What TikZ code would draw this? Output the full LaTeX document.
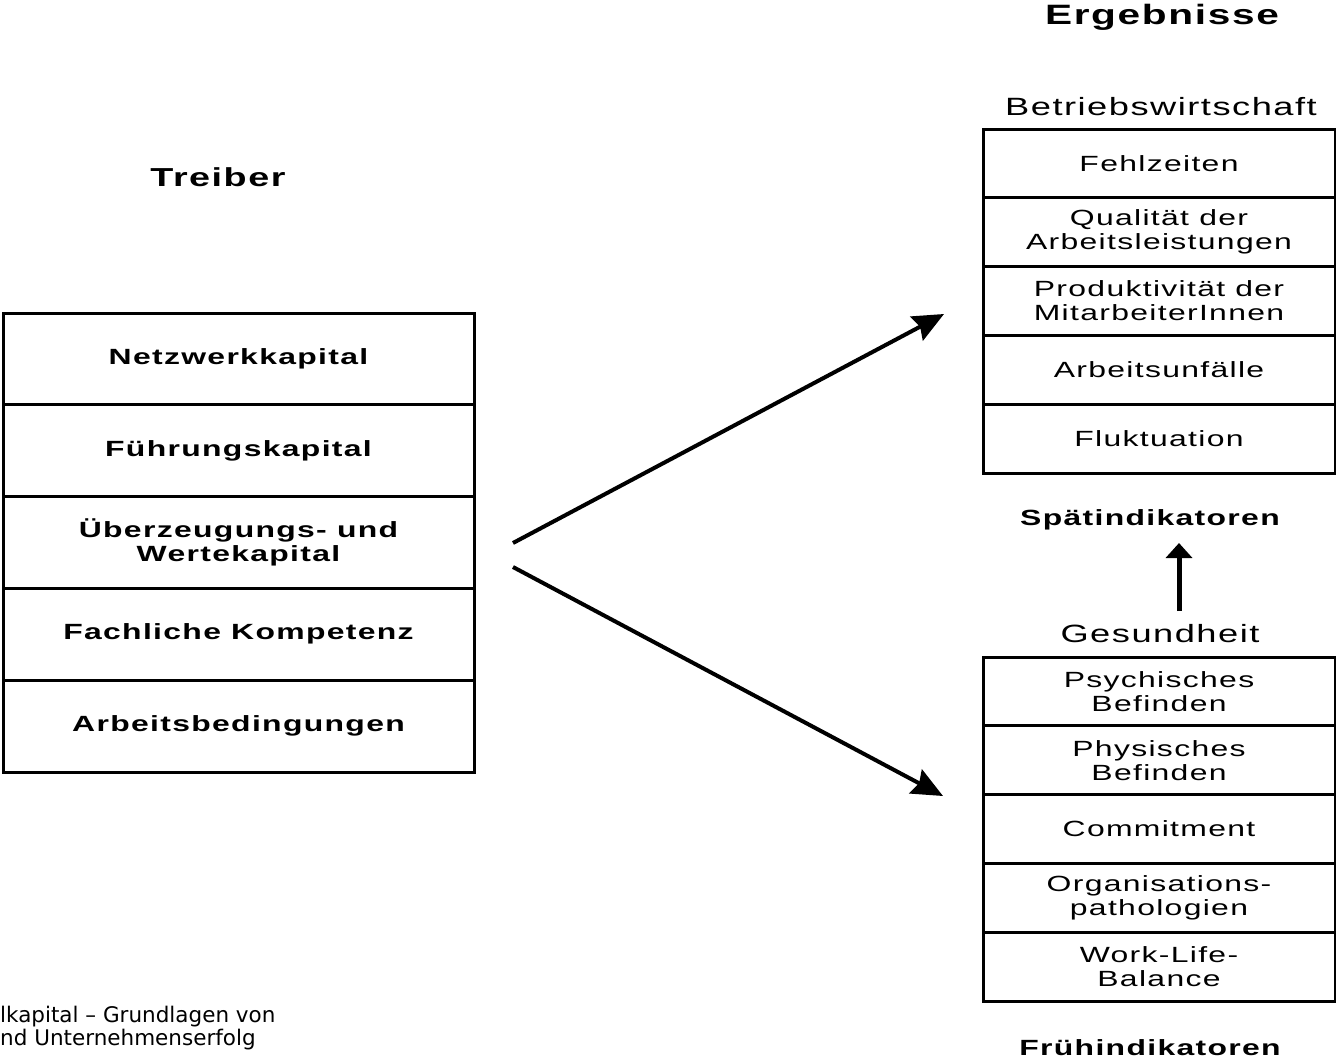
\documentclass[tikz,border=0pt]{standalone}
\usepackage{fontspec}
\setmainfont{Liberation Sans}
\newfontfamily\wfont[FakeStretch=1.45,LetterSpace=6]{Liberation Sans}
\newfontfamily\vfont{DejaVu Sans}
\usetikzlibrary{arrows.meta}
\tikzset{
  lcell/.style={draw, line width=3pt, minimum width=471pt, minimum height=91.8pt, inner sep=0pt, align=center,
    font=\wfont\bfseries\fontsize{22}{24}\selectfont},
  rcell/.style={draw, line width=3pt, minimum width=352pt, minimum height=68.8pt, inner sep=0pt, align=center,
    font=\wfont\fontsize{22}{24}\selectfont},
  head/.style={inner sep=0pt, font=\wfont\bfseries\fontsize{28}{30}\selectfont},
  sub/.style={inner sep=0pt, font=\wfont\fontsize{25}{27}\selectfont},
  ind/.style={inner sep=0pt, font=\wfont\bfseries\fontsize{22}{24}\selectfont},
  bigarrow/.style={line width=4pt, -{Stealth[length=31pt,width=27pt,inset=4pt]}},
  uparrow/.style={line width=5pt, -{Triangle[length=15pt,width=26pt]}},
  foot/.style={inner sep=0pt, anchor=base west, font=\vfont\fontsize{21.5}{24}\selectfont}
}
\begin{document}
\begin{tikzpicture}[x=1pt,y=-1pt]
\useasboundingbox (0,0) rectangle (1336,1058);
% headings
\node[head] (erg) at (1162,17) {Ergebnisse};
\node[sub] (bwl) at (1161,107) {Betriebswirtschaft};
\node[head, font=\wfont\bfseries\fontsize{26}{28}\selectfont] (treiber) at (218,177) {Treiber};
\node[ind] (spaet) at (1150,520) {Spätindikatoren};
\node[sub] (ges) at (1160,634) {Gesundheit};
\node[ind] (frueh) at (1150,1048) {Frühindikatoren};
% left column
\node[lcell] (l1) at (238.5,358.9) {Netzwerkkapital};
\node[lcell] (l2) at (238.5,450.7) {Führungskapital};
\node[lcell] (l3) at (238.5,542.5) {Überzeugungs- und\\Wertekapital};
\node[lcell] (l4) at (238.5,634.3) {Fachliche Kompetenz};
\node[lcell] (l5) at (238.5,726.1) {Arbeitsbedingungen};
% right top column
\node[rcell] (r1) at (1159,163.4) {Fehlzeiten};
\node[rcell] (r2) at (1159,232.2) {Qualität der\\Arbeitsleistungen};
\node[rcell] (r3) at (1159,301.0) {Produktivität der\\MitarbeiterInnen};
\node[rcell] (r4) at (1159,369.8) {Arbeitsunfälle};
\node[rcell] (r5) at (1159,438.6) {Fluktuation};
% right bottom column
\node[rcell] (g1) at (1159,691.4) {Psychisches\\Befinden};
\node[rcell] (g2) at (1159,760.2) {Physisches\\Befinden};
\node[rcell] (g3) at (1159,829.0) {Commitment};
\node[rcell] (g4) at (1159,897.8) {Organisations-\\pathologien};
\node[rcell] (g5) at (1159,966.6) {Work-Life-\\Balance};
% arrows
\coordinate (a1s) at (513,543);
\coordinate (a1e) at (944,314);
\coordinate (a2s) at (513,567);
\coordinate (a2e) at (943,796);
\coordinate (v1) at (1179,611);
\coordinate (v2) at (1179,543);
\draw[bigarrow] (a1s) -- (a1e);
\draw[bigarrow] (a2s) -- (a2e);
\draw[uparrow] (v1) -- (v2);
% footer
\node[foot] (f1) at (0,1022) {lkapital – Grundlagen von};
\node[foot] (f2) at (0,1045) {nd Unternehmenserfolg};
\end{tikzpicture}
\end{document}
